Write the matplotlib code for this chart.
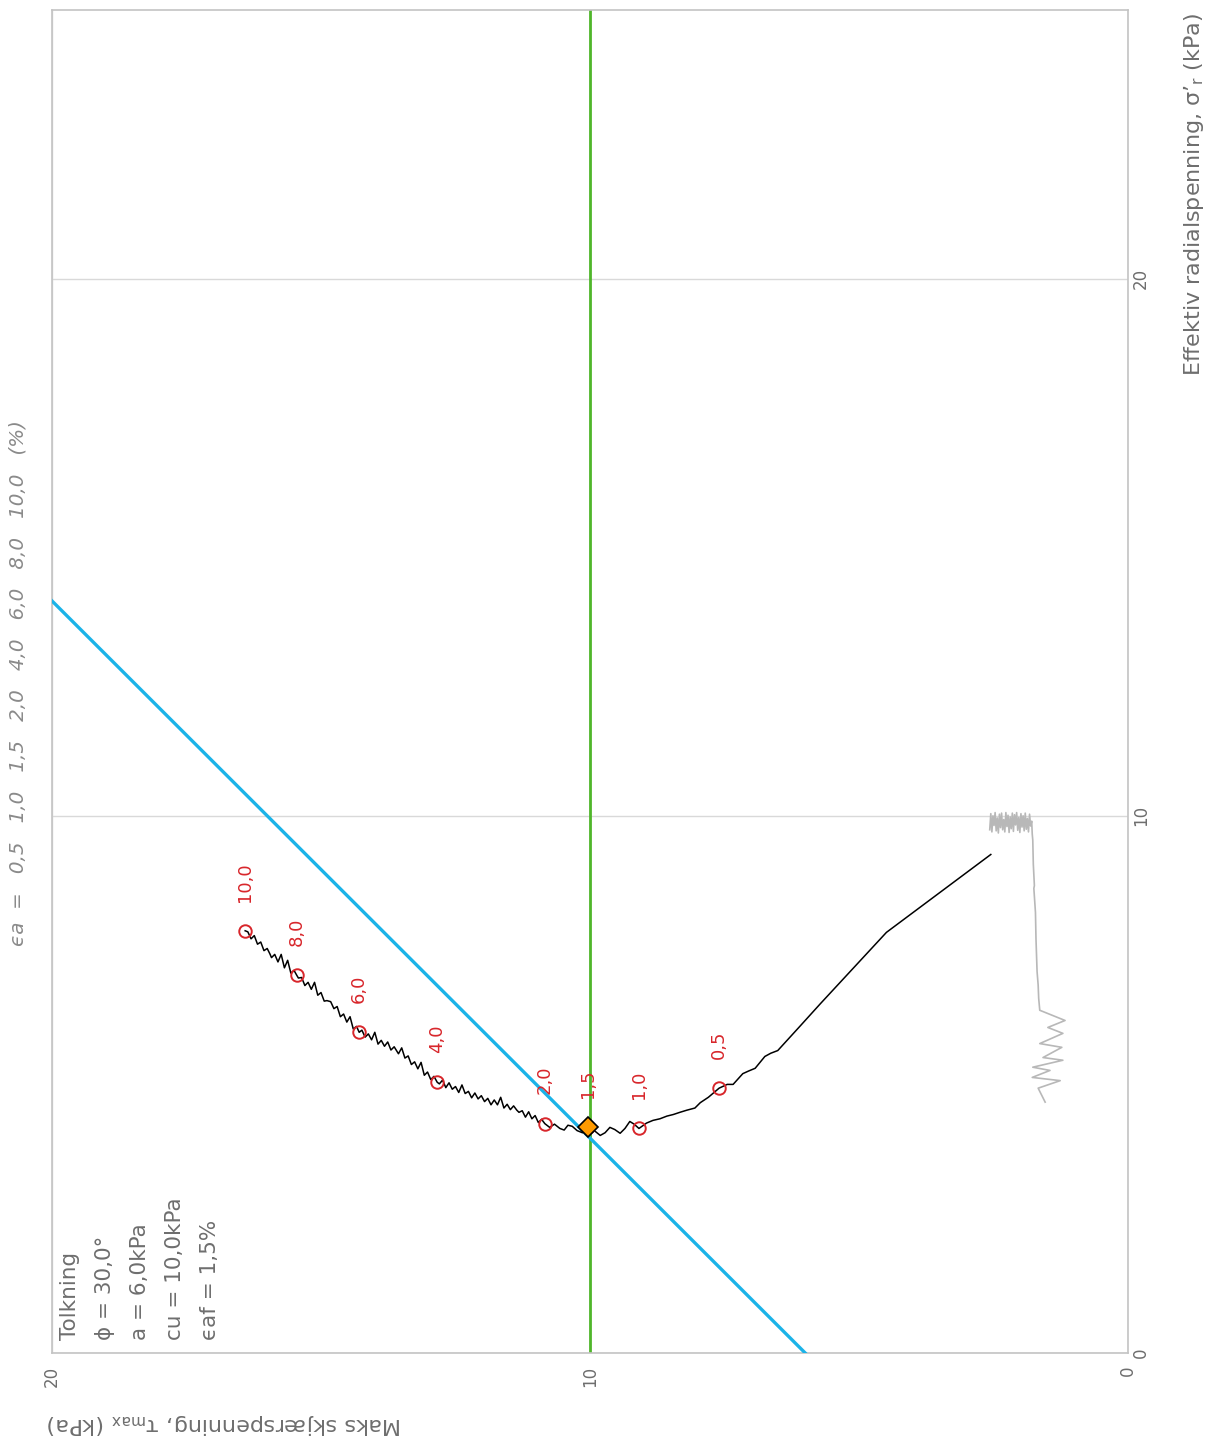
import matplotlib
matplotlib.use("Agg")
import matplotlib.pyplot as plt
import numpy as np

W, H = 1216, 1441

# ---- interpretation parameters ----
phi_deg = 30.0
a_kpa = 6.0
cu_kpa = 10.0
eaf_pct = 1.5

# ---- axes ----
tau_ticks = [0, 10, 20]      # Maks skjærspenning (horizontal, reversed)
sig_ticks = [0, 10, 20]      # Effektiv radialspenning (vertical)

# ---- stress path (black) : tau_max, sigma'_r ----
path_tau = [2.55, 4.49, 5.72, 6.10, 6.51, 6.64, 6.75, 6.93, 7.05, 7.16, 7.34, 7.45, 7.60,
            7.80, 7.95, 8.05, 8.20, 8.33, 8.45, 8.57, 8.70, 8.83, 8.95, 9.09,
            9.18, 9.26, 9.35, 9.44, 9.54, 9.63, 9.72, 9.81, 9.92, 10.04, 10.14, 10.24,
            10.33, 10.41, 10.48, 10.56, 10.66, 10.75, 10.84,
            10.90, 10.96, 11.02, 11.08, 11.14, 11.20, 11.26, 11.32, 11.36,
            11.42, 11.48, 11.54, 11.60, 11.66, 11.72, 11.78, 11.84, 11.90,
            11.96, 12.02, 12.08, 12.14, 12.20, 12.26, 12.32, 12.38, 12.44, 12.50,
            12.56, 12.62, 12.68, 12.74, 12.80, 12.84,
            12.90, 12.96, 13.02, 13.08, 13.14, 13.20, 13.26, 13.32, 13.38, 13.44, 13.50, 13.56,
            13.64, 13.70, 13.76, 13.82, 13.88, 13.94, 14.00, 14.06, 14.12, 14.18, 14.24, 14.29,
            14.34, 14.40, 14.46, 14.52, 14.58, 14.64, 14.70, 14.76, 14.82, 14.89,
            14.94, 15.00, 15.06, 15.12, 15.18, 15.24, 15.30, 15.36, 15.42, 15.45,
            15.50, 15.56, 15.62, 15.68, 15.74, 15.80, 15.86, 15.92, 15.95,
            16.00, 16.06, 16.12, 16.18, 16.24, 16.30, 16.36, 16.41]
path_sig = [9.28, 7.83, 6.50, 6.08, 5.63, 5.58, 5.52, 5.30, 5.25, 5.20, 5.00, 5.00, 4.93,
            4.76, 4.66, 4.56, 4.52, 4.48, 4.44, 4.41, 4.36, 4.33, 4.28, 4.18,
            4.26, 4.31, 4.18, 4.09, 4.16, 4.20, 4.10, 4.05, 4.14, 4.20, 4.10, 4.14,
            4.22, 4.24, 4.15, 4.18, 4.26, 4.20, 4.27,
            4.35, 4.29, 4.42, 4.36, 4.49, 4.39, 4.51, 4.48, 4.52,
            4.60, 4.53, 4.63, 4.56, 4.76, 4.62, 4.71, 4.62, 4.74,
            4.68, 4.79, 4.73, 4.84, 4.75, 4.87, 4.83, 4.99, 4.85, 4.96,
            4.91, 5.03, 4.94, 5.08, 5.01, 5.04,
            5.15, 5.09, 5.23, 5.17, 5.41, 5.29, 5.42, 5.37, 5.53, 5.49, 5.68, 5.57,
            5.70, 5.64, 5.79, 5.71, 5.82, 5.75, 5.97, 5.83, 5.94, 5.88, 6.01, 5.97,
            6.08, 6.03, 6.26, 6.16, 6.31, 6.26, 6.45, 6.41, 6.54, 6.56,
            6.55, 6.71, 6.66, 6.90, 6.77, 6.90, 6.84, 6.99, 6.98, 7.03,
            7.12, 7.07, 7.31, 7.17, 7.42, 7.28, 7.42, 7.36, 7.43,
            7.53, 7.49, 7.65, 7.61, 7.77, 7.71, 7.84, 7.86]

# ---- grey series ----
grey_tau = [2.57, 2.55, 2.53, 2.51, 2.49, 2.47, 2.45, 2.43, 2.41, 2.39,
            2.37, 2.35, 2.33, 2.31, 2.29, 2.27, 2.25, 2.23, 2.21, 2.19,
            2.17, 2.15, 2.13, 2.11, 2.09, 2.07, 2.05, 2.03, 2.01, 1.99,
            1.97, 1.95, 1.93, 1.91, 1.89, 1.87, 1.85, 1.83, 1.81, 1.79,
            1.78, 1.77, 1.76, 1.74, 1.75, 1.72, 1.71, 1.70, 1.69, 1.67, 1.66, 1.64,
            1.17, 1.49, 1.21, 1.64, 1.23, 1.58, 1.21, 1.77, 1.45, 1.78, 1.26, 1.67, 1.54]
grey_sig = [9.74, 10.04, 9.70, 10.00, 9.82, 10.06, 9.72, 9.96, 9.68, 10.03,
            9.78, 10.05, 9.74, 9.93, 9.70, 10.06, 9.80, 10.01, 9.69, 9.98,
            9.76, 10.05, 9.71, 10.02, 9.83, 10.06, 9.73, 9.97, 9.69, 10.04,
            9.79, 10.00, 9.72, 10.05, 9.75, 9.95, 9.70, 10.03, 9.81, 9.90,
            9.66, 9.55, 9.10, 8.70, 8.65, 8.20, 7.70, 7.40, 7.10, 6.85, 6.60, 6.38,
            6.19, 6.06, 5.95, 5.76, 5.69, 5.50, 5.45, 5.32, 5.26, 5.13, 5.07, 4.93, 4.67]

# ---- strain markers ----
strain_labels = ["0,5", "1,0", "1,5", "2,0", "4,0", "6,0", "8,0", "10,0"]
strain_tau = [7.60, 9.09, 10.04, 10.84, 12.84, 14.29, 15.45, 16.41]
strain_sig = [4.93, 4.18, 4.20, 4.27, 5.04, 5.97, 7.03, 7.86]

fail_tau = [10.04]
fail_sig = [4.20]

GREY_TXT = "#6e6e6e"
RED = "#d8262b"

fig = plt.figure(figsize=(W / 100, H / 100), dpi=100)
ax = fig.add_axes([52 / W, 1 - 1353 / H, (1128 - 52) / W, (1353 - 10) / H])
ax.set_xlim(20, 0)
ax.set_ylim(0, 25)
ax.set_xticks(tau_ticks)
ax.set_yticks(sig_ticks)
ax.yaxis.tick_right()
ax.grid(True, color="#d9d9d9", lw=1.0, zorder=0)
for s in ax.spines.values():
    s.set_color("#c4c4c4")
    s.set_linewidth(1.2)
ax.tick_params(length=0, labelsize=12, colors=GREY_TXT)
ax.tick_params(axis="x", labelrotation=90, pad=9)
ax.tick_params(axis="y", labelrotation=90, pad=3)
for lab in ax.get_yticklabels():
    lab.set_va("center")

# failure line  tau = (sigma' + a) * sin(phi)/(1 - sin(phi))
sphi = np.sin(np.radians(phi_deg))
sig_line = np.array([0.0, 25.0])
tau_line = (sig_line + a_kpa) * sphi / (1 - sphi)
ax.plot(tau_line, sig_line, color="#1bb3e8", lw=2.4, zorder=3)

# cu line
ax.axvline(cu_kpa, color="#4fb62a", lw=2.0, zorder=2)

ax.plot(grey_tau, grey_sig, color="#b8b8b8", lw=1.2, zorder=3)
ax.plot(path_tau, path_sig, color="black", lw=1.1, zorder=4)
ax.plot(strain_tau, strain_sig, linestyle="none", marker="o", ms=9,
        mfc="none", mec=RED, mew=1.4, zorder=5)
for lab, t, s in zip(strain_labels, strain_tau, strain_sig):
    ax.annotate(lab, (t, s), xytext=(0, 21), textcoords="offset points",
                rotation=90, ha="center", va="bottom", color=RED, fontsize=13, zorder=6)
ax.plot(fail_tau, fail_sig, linestyle="none", marker="D", ms=10.5,
        mfc="#ff9a00", mec="black", mew=1.2, zorder=7)


def px(x, y):
    return x / W, 1 - y / H


# interpretation box text
info = ["Tolkning",
        f"ϕ = {phi_deg:.1f}°".replace(".", ","),
        f"a = {a_kpa:.1f}kPa".replace(".", ","),
        f"cu = {cu_kpa:.1f}kPa".replace(".", ","),
        f"ϵaf = {eaf_pct:.1f}%".replace(".", ",")]
for i, t in enumerate(info):
    fig.text(*px(70 + 35 * i, 1340), t, rotation=90, ha="center", va="bottom",
             fontsize=15.5, color=GREY_TXT)

# strain legend on the left
strain_txt = "ϵa  =   " + "   ".join(strain_labels) + "   (%)"
fig.text(*px(18, 946), strain_txt, rotation=90, ha="center", va="bottom",
         fontsize=14.3, style="italic", color="#8a8a8a")

# axis titles
fig.text(*px(47, 1424), "Maks skjærspenning, τ$_{\\mathrm{max}}$ (kPa)", rotation=180,
         ha="left", va="center", fontsize=16, color=GREY_TXT)
fig.text(*px(1193, 376), "Effektiv radialspenning, σ’$_{\\mathrm{r}}$ (kPa)", rotation=90,
         ha="center", va="bottom", fontsize=16, color=GREY_TXT)

fig.savefig("out.png", dpi=100, facecolor="white")
